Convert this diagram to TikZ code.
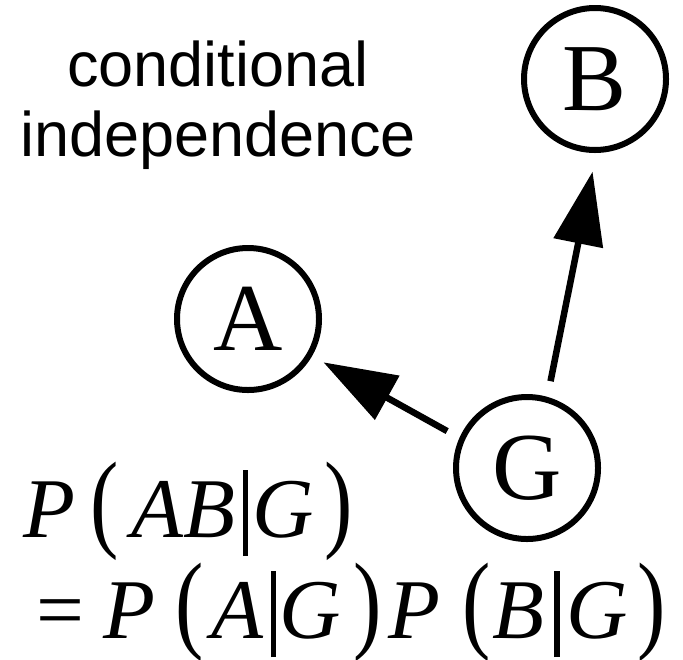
\documentclass[tikz,border=0pt]{standalone}
\usepackage{fontspec}
\usepackage{graphicx}
\setmainfont{Liberation Serif}
\newfontfamily\labelfont{Liberation Sans}
\usetikzlibrary{arrows.meta,positioning}
\newcommand{\tallL}{{\upshape\scalebox{1}[1.28]{(}}}
\newcommand{\tallR}{{\upshape\scalebox{1}[1.28]{)}}}
\newcommand{\condbar}{\rule[-9.5pt]{2.8pt}{43pt}}
\tikzset{
  bn/.style={line width=.5pt, >={Triangle[length=36.5pt, width=24.5pt]}},
  var/.style={draw, circle, line width=3pt, minimum size=71pt, inner sep=0pt, font=\fontsize{48}{48}\selectfont},
  dep/.style={->, line width=3.25pt},
  eqn/.style={anchor=base west, inner sep=0pt, font=\fontsize{42.5}{42.5}\selectfont\itshape},
  ttl/.style={align=center, inner sep=0pt, anchor=north, font=\fontsize{31.5}{35}\selectfont\labelfont},
}
\begin{document}
\begin{tikzpicture}[bn, x=0.5pt, y=-0.5pt]
\useasboundingbox (0,0) rectangle (683,659);
\node[ttl] (title) at (218,40) {conditional\\independence};

\node[var] (a) at (248,319) {A};
\node[var] (b) at (595,79) {B};
\node[var] (g) at (527,468) {G};

\draw[dep, shorten <=7pt, shorten >=6.5pt] (g.156) -- (a.330);
\draw[dep, shorten <=8pt, shorten >=9.5pt] (g.74) -- (b.271);

% P(AB|G) = P(A|G) P(B|G)
\node[eqn] (lhs) at (23,537) {P\hspace{7.5pt}\tallL\hspace{6.5pt}AB\hspace{3.5pt}\condbar\hspace{2pt}G\hspace{5.5pt}\tallR};
\node[eqn] (rhs) at (36,638) {{\upshape=}\hspace{9.5pt}P\hspace{10pt}\tallL\hspace{4pt}A\hspace{3.5pt}\condbar\hspace{1.5pt}G\hspace{6.5pt}\tallR\hspace{3.5pt}P\hspace{11pt}\tallL\hspace{0.5pt}B\hspace{5pt}\condbar\hspace{3.5pt}G\hspace{4.5pt}\tallR};
\end{tikzpicture}
\end{document}
